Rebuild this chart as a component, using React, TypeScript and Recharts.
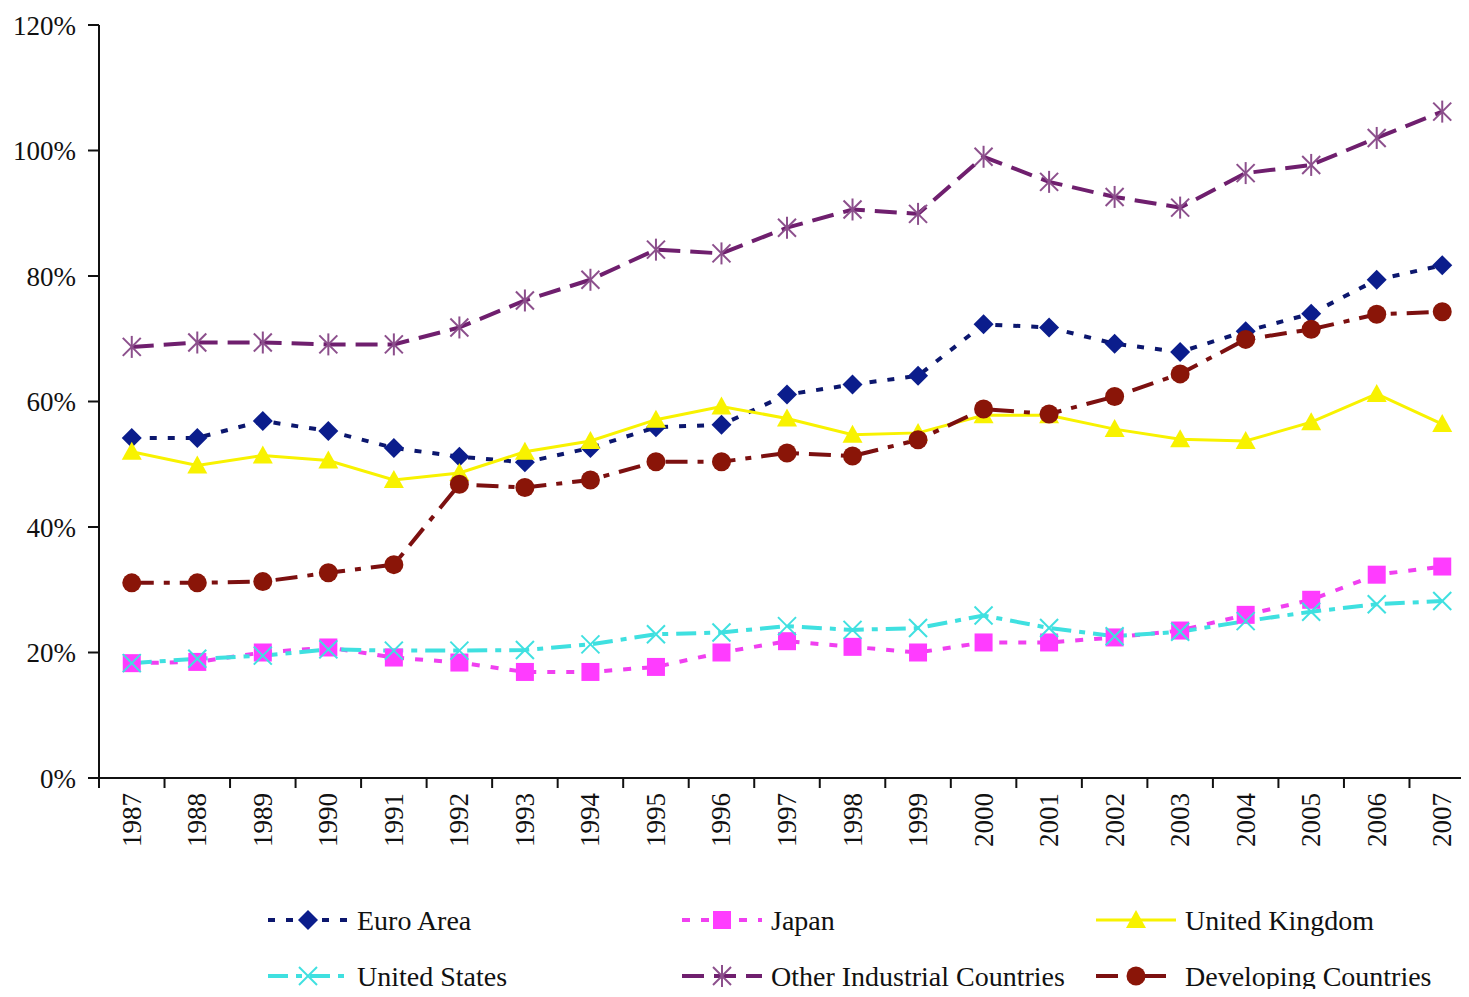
import React from 'react';
import { LineChart, Line, XAxis, YAxis, Legend } from 'recharts';

// Share of GDP by economy group, 1987–2007 (percent)
const years = [
  '1987', '1988', '1989', '1990', '1991', '1992', '1993', '1994', '1995', '1996', '1997',
  '1998', '1999', '2000', '2001', '2002', '2003', '2004', '2005', '2006', '2007',
];
const euroArea = [54.2, 54.2, 56.9, 55.3, 52.6, 51.2, 50.3, 52.6, 55.9, 56.3, 61.1, 62.7, 64.1, 72.3, 71.8, 69.2, 67.9, 71.2, 74.0, 79.4, 81.7];
const japan = [18.3, 18.5, 20.0, 20.8, 19.2, 18.4, 16.9, 16.9, 17.7, 20.0, 21.8, 20.9, 20.0, 21.6, 21.6, 22.4, 23.5, 26.0, 28.4, 32.4, 33.7];
const unitedKingdom = [52.0, 49.8, 51.4, 50.6, 47.5, 48.6, 52.0, 53.7, 57.1, 59.2, 57.3, 54.7, 55.0, 57.8, 57.8, 55.6, 54.0, 53.7, 56.7, 61.2, 56.4];
const unitedStates = [18.3, 19.0, 19.5, 20.5, 20.3, 20.3, 20.4, 21.3, 22.9, 23.2, 24.2, 23.6, 23.9, 25.9, 23.9, 22.6, 23.3, 25.0, 26.5, 27.7, 28.2];
const otherIndustrial = [68.7, 69.4, 69.4, 69.1, 69.1, 71.8, 76.1, 79.4, 84.2, 83.6, 87.7, 90.6, 89.9, 99.0, 95.0, 92.6, 90.9, 96.4, 97.7, 102.0, 106.2];
const developing = [31.1, 31.1, 31.3, 32.7, 34.0, 46.8, 46.3, 47.5, 50.4, 50.4, 51.8, 51.3, 53.9, 58.8, 58.0, 60.8, 64.4, 69.9, 71.5, 73.9, 74.3];

const yTicks = [0, 20, 40, 60, 80, 100, 120];

const data = years.map((year, i) => ({
  year,
  euro: euroArea[i],
  japan: japan[i],
  uk: unitedKingdom[i],
  us: unitedStates[i],
  other: otherIndustrial[i],
  dev: developing[i],
}));

type Shape = 'diamond' | 'square' | 'triangle' | 'cross' | 'star' | 'circle';

interface SeriesStyle {
  key: string;
  name: string;
  stroke: string;
  markerColor: string;
  dash?: string;
  width: number;
  shape: Shape;
}

const series: SeriesStyle[] = [
  { key: 'euro', name: 'Euro Area', stroke: '#0c176e', markerColor: '#0b1d8c', dash: '7 11', width: 4, shape: 'diamond' },
  { key: 'japan', name: 'Japan', stroke: '#f040f0', markerColor: '#ff3cff', dash: '8 11', width: 4, shape: 'square' },
  { key: 'uk', name: 'United Kingdom', stroke: '#f8f200', markerColor: '#f8f200', width: 3, shape: 'triangle' },
  { key: 'us', name: 'United States', stroke: '#3fe0e0', markerColor: '#3fe0e0', dash: '20 8 6 8', width: 4, shape: 'cross' },
  { key: 'other', name: 'Other Industrial Countries', stroke: '#6f1f6e', markerColor: '#8c4f8c', dash: '22 10', width: 4, shape: 'star' },
  { key: 'dev', name: 'Developing Countries', stroke: '#7c1010', markerColor: '#8a1508', dash: '22 10 6 10', width: 4, shape: 'circle' },
];

const FONT = "'Liberation Serif', 'Times New Roman', serif";
const X_TICK_SIZE = 10;
const X_TICK_GAP = 5;

function Marker({ shape, color, cx, cy }: { shape: Shape; color: string; cx: number; cy: number }) {
  switch (shape) {
    case 'diamond':
      return <polygon points={`${cx},${cy - 10} ${cx + 10},${cy} ${cx},${cy + 10} ${cx - 10},${cy}`} fill={color} />;
    case 'square':
      return <rect x={cx - 9} y={cy - 9} width={18} height={18} fill={color} />;
    case 'triangle':
      return <polygon points={`${cx},${cy - 10} ${cx + 10},${cy + 8} ${cx - 10},${cy + 8}`} fill={color} />;
    case 'cross':
      return (
        <g stroke={color} strokeWidth={2}>
          <line x1={cx - 9} y1={cy - 9} x2={cx + 9} y2={cy + 9} />
          <line x1={cx - 9} y1={cy + 9} x2={cx + 9} y2={cy - 9} />
        </g>
      );
    case 'star':
      return (
        <g stroke={color} strokeWidth={2}>
          <line x1={cx - 9} y1={cy - 9} x2={cx + 9} y2={cy + 9} />
          <line x1={cx - 9} y1={cy + 9} x2={cx + 9} y2={cy - 9} />
          <line x1={cx} y1={cy - 11} x2={cx} y2={cy + 11} />
        </g>
      );
    case 'circle':
    default:
      return <circle cx={cx} cy={cy} r={9.5} fill={color} />;
  }
}

const makeDot = (s: SeriesStyle) => (props: any) => {
  const { cx, cy, index } = props;
  if (cx == null || cy == null) return <g key={`${s.key}-${index}`} />;
  return (
    <g key={`${s.key}-${index}`}>
      <Marker shape={s.shape} color={s.markerColor} cx={cx} cy={cy} />
    </g>
  );
};

// Year labels sit in the middle of each band; tick marks sit on band edges.
const YearTick = (props: any) => {
  const { x, y, payload, index, visibleTicksCount, width } = props;
  const half = payload && payload.offset ? payload.offset : width / visibleTicksCount / 2;
  const axisY = y - X_TICK_SIZE - X_TICK_GAP;
  const isLast = index === visibleTicksCount - 1;
  return (
    <g>
      <line x1={x - half} y1={axisY} x2={x - half} y2={axisY + X_TICK_SIZE} stroke="#111" strokeWidth={2} />
      {isLast && (
        <line x1={x + half} y1={axisY} x2={x + half} y2={axisY + X_TICK_SIZE} stroke="#111" strokeWidth={2} />
      )}
      <text
        x={x}
        y={y}
        transform={`rotate(-90, ${x}, ${y})`}
        textAnchor="end"
        dominantBaseline="central"
        fontFamily={FONT}
        fontSize={27}
        fill="#111"
      >
        {payload.value}
      </text>
    </g>
  );
};

// Legend: two rows of three entries
const legendCols = [268, 682, 1096];
const legendRows = [48, 104];

const LegendContent = () => (
  <svg width={1469} height={125} style={{ display: 'block' }}>
    {series.map((s, i) => {
      const x0 = legendCols[i % 3];
      const y = legendRows[Math.floor(i / 3)];
      const mid = x0 + 40;
      return (
        <g key={s.key}>
          <line
            x1={x0}
            y1={y}
            x2={x0 + 80}
            y2={y}
            stroke={s.stroke}
            strokeWidth={s.width}
            strokeDasharray={s.dash}
          />
          <Marker shape={s.shape} color={s.markerColor} cx={mid} cy={y} />
          <text
            x={x0 + 89}
            y={y}
            dominantBaseline="central"
            fontFamily={FONT}
            fontSize={28}
            fill="#111"
          >
            {s.name}
          </text>
        </g>
      );
    })}
  </svg>
);

export default function App() {
  return (
    <div style={{ margin: -8, width: 1469, height: 997, overflow: 'hidden', background: '#fff' }}>
      <LineChart
        width={1490}
        height={997}
        data={data}
        margin={{ top: 25, right: 15, bottom: 0, left: 0 }}
        style={{ fontFamily: FONT }}
      >
        <XAxis
          dataKey="year"
          scale="band"
          interval={0}
          axisLine={{ stroke: '#111', strokeWidth: 2 }}
          tickLine={false}
          tickSize={X_TICK_SIZE}
          tickMargin={X_TICK_GAP}
          height={94}
          tick={<YearTick />}
        />
        <YAxis
          domain={[0, 120]}
          ticks={yTicks}
          interval={0}
          width={99}
          axisLine={{ stroke: '#111', strokeWidth: 2 }}
          tickLine={{ stroke: '#111', strokeWidth: 2 }}
          tickSize={11}
          tickMargin={12}
          tickFormatter={(v: number) => `${v}%`}
          tick={{ fontFamily: FONT, fontSize: 27, fill: '#111' }}
        />
        <Legend verticalAlign="bottom" height={125} content={<LegendContent />} wrapperStyle={{ left: 0 }} />
        {series.map((s) => (
          <Line
            key={s.key}
            type="linear"
            dataKey={s.key}
            name={s.name}
            stroke={s.stroke}
            strokeWidth={s.width}
            strokeDasharray={s.dash}
            dot={makeDot(s)}
            activeDot={false}
            isAnimationActive={false}
          />
        ))}
      </LineChart>
    </div>
  );
}
